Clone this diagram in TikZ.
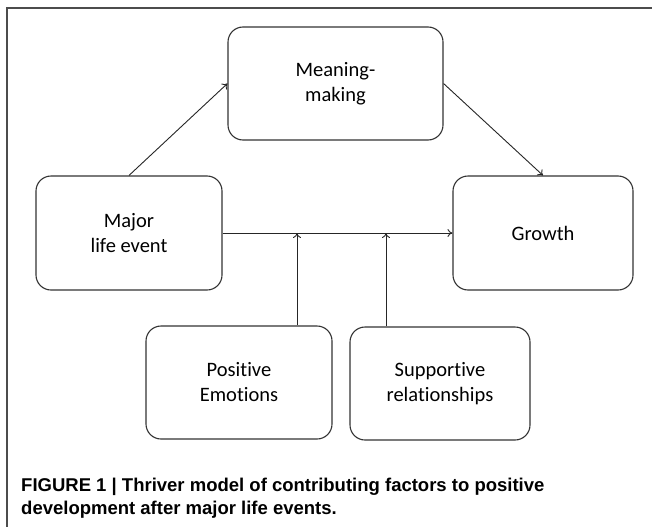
\documentclass[tikz,border=0pt]{standalone}
\usepackage{fontspec}
\setmainfont{Carlito}[Ligatures=NoCommon]
\newfontfamily\capfont{Liberation Sans}
\usetikzlibrary{arrows.meta}

\begin{document}
\begin{tikzpicture}[x=1pt,y=-1pt,
	box/.style={draw=black!80,line width=1.1pt,rounded corners=15pt,align=center,
		inner sep=0pt,font=\fontsize{20.5}{25}\selectfont},
	link/.style={draw=black!85,line width=0.9pt,-{To[length=5pt,width=8pt]}}]

	\useasboundingbox (0,0) rectangle (652,527);
	\fill[white] (0,0) rectangle (652,527);
%	frame of the figure panel
	\draw[black!70,line width=1.2pt] (652,8) -- (7,8) -- (7,527);

	\node[box,minimum width=215pt,minimum height=113pt] (meaning) at (335.5,83.5) {Meaning-\\making};
	\node[box,minimum width=186pt,minimum height=114pt] (major) at (129,233) {Major\\life event};
	\node[box,minimum width=180pt,minimum height=114pt] (growth) at (543,233) {Growth};
	\node[box,minimum width=186pt,minimum height=113pt] (posemo) at (239,382.5) {Positive\\Emotions};
	\node[box,minimum width=180pt,minimum height=113pt] (support) at (440,383.5) {Supportive\\relationships};

	\coordinate (j1) at (297,233);
	\coordinate (j2) at (386,233);

	\draw[link] (major.north) -- (meaning.west);
	\draw[link] (meaning.east) -- (growth.north);
	\draw[link] (major.east) -- (growth.west);
	\draw[link] (posemo.north -| j1) -- (j1);
	\draw[link] (support.north -| j2) -- (j2);

	\node[anchor=north west,align=left,inner sep=0pt,font=\capfont\bfseries\fontsize{18.5}{23}\selectfont] (caption) at (21,478)
		{FIGURE 1 | Thriver model of contributing factors to positive\\development after major life events.};

\end{tikzpicture}
\end{document}
